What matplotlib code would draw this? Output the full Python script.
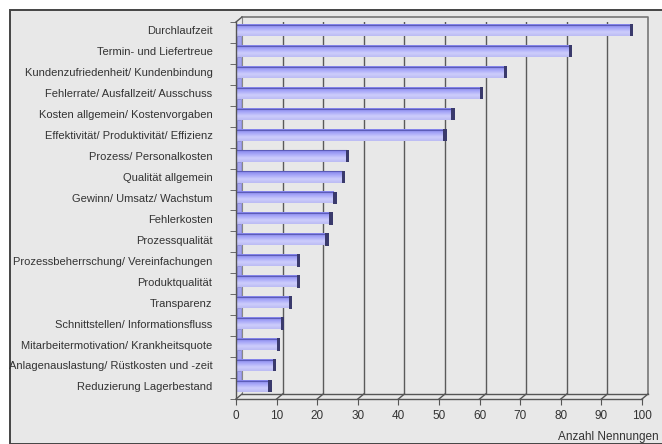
import numpy as np
import matplotlib
matplotlib.use('Agg')
import matplotlib.pyplot as plt
from matplotlib.patches import Rectangle
from matplotlib.colors import LinearSegmentedColormap

categories = ['Durchlaufzeit', 'Termin- und Liefertreue', 'Kundenzufriedenheit/ Kundenbindung',
              'Fehlerrate/ Ausfallzeit/ Ausschuss', 'Kosten allgemein/ Kostenvorgaben',
              'Effektivität/ Produktivität/ Effizienz', 'Prozess/ Personalkosten', 'Qualität allgemein',
              'Gewinn/ Umsatz/ Wachstum', 'Fehlerkosten', 'Prozessqualität',
              'Prozessbeherrschung/ Vereinfachungen', 'Produktqualität', 'Transparenz',
              'Schnittstellen/ Informationsfluss', 'Mitarbeitermotivation/ Krankheitsquote',
              'Anlagenauslastung/ Rüstkosten und -zeit', 'Reduzierung Lagerbestand']
values = [97, 82, 66, 60, 53, 51, 27, 26, 24, 23, 22, 15, 15, 13, 11, 10, 9, 8]
xticks = list(range(0, 101, 10))
xlabel = 'Anzahl Nennungen'

plt.rcParams['font.family'] = ['Liberation Sans', 'DejaVu Sans']
W, H = 662, 444
fig = plt.figure(figsize=(W / 100, H / 100), dpi=100)
fig.patch.set_facecolor('white')

# outer chart frame
fig.patches.append(Rectangle((10 / W, 0), 1, (H - 10) / H, transform=fig.transFigure,
                             facecolor='#e8e8e8', edgecolor='#444444', lw=1.4, zorder=-10))

L, R, T, B = 236, 642, 22, 399
ax = fig.add_axes([L / W, (H - B) / H, (R - L) / W, (B - T) / H])
ax.set_facecolor('none')
n = len(categories)
ax.set_xlim(0, 100)
ax.set_ylim(n - 0.5, -0.5)

# 3D depth offset in data units
DX = 6 / ((R - L) / 100)
DY = 5 / ((B - T) / n)
ybot, ytop = n - 0.5, -0.5
lc = '#555555'

# back wall and floor outline
ax.vlines([x + DX for x in xticks[1:-1]], ybot - DY, ytop - DY, color='#5a5a5a', lw=1.0, zorder=1)
ax.plot([DX, 100 + DX, 100 + DX], [ytop - DY, ytop - DY, ybot - DY], color='#777777', lw=1.2,
        zorder=1, clip_on=False)
ax.plot([DX, DX], [ytop - DY, ybot - DY], color='#888888', lw=0.8, zorder=1, clip_on=False)
ax.plot([DX, 100 + DX], [ybot - DY, ybot - DY], color=lc, lw=1.0, zorder=1, clip_on=False)
for x in xticks:
    ax.plot([x, x + DX], [ybot, ybot - DY], color=lc, lw=1.0, zorder=1, clip_on=False)
ax.plot([0, DX], [ytop, ytop - DY], color=lc, lw=1.0, zorder=1, clip_on=False)

# bars
cmap = LinearSegmentedColormap.from_list('bar', ['#8282ea', '#a8a8f8', '#cdcdfc', '#bcbcf4'])
grad = np.linspace(0, 1, 64).reshape(-1, 1)
pos = np.arange(n) - 0.1
bh = 0.53
for i, (p, v) in enumerate(zip(pos, values)):
    ax.imshow(grad, cmap=cmap, aspect='auto', origin='upper',
              extent=(0, v, p + bh / 2, p - bh / 2), zorder=3, interpolation='bilinear')
    ax.plot([0, v], [p - bh / 2, p - bh / 2], color='#5c5cb8', lw=0.8, zorder=4)
    ax.add_patch(Rectangle((v, p - bh / 2 - 0.04), 0.85, bh + 0.06, facecolor='#3a3a6c',
                           edgecolor='none', zorder=4))
    if i > 0:
        ax.add_patch(Rectangle((0.15, p - bh / 2 - 0.47), 1.2, 0.47, facecolor='#a4a4ee',
                               edgecolor='#7e7ed8', lw=0.5, zorder=2))

ax.set_xlim(0, 100)
ax.set_ylim(n - 0.5, -0.5)

for s in ['top', 'right']:
    ax.spines[s].set_visible(False)
for s in ['left', 'bottom']:
    ax.spines[s].set_color(lc)
    ax.spines[s].set_linewidth(1.0)
    ax.spines[s].set_zorder(5)

ax.set_xticks(xticks)
ax.set_xticklabels([str(x) for x in xticks])
ax.set_yticks(pos)
ax.set_yticklabels(categories)
ax.set_yticks(np.arange(n + 1) - 0.5, minor=True)
ax.tick_params(axis='y', which='major', length=0, pad=17, labelsize=8, labelcolor='#333333')
ax.tick_params(axis='y', which='minor', length=4, color=lc, direction='out')
ax.tick_params(axis='x', length=4, color=lc, pad=4, labelsize=8.5, labelcolor='#333333')

fig.text(659 / W, 1 - 437 / H, xlabel, ha='right', va='center', fontsize=8.5, color='#333333')

fig.savefig('out.png', dpi=100)
